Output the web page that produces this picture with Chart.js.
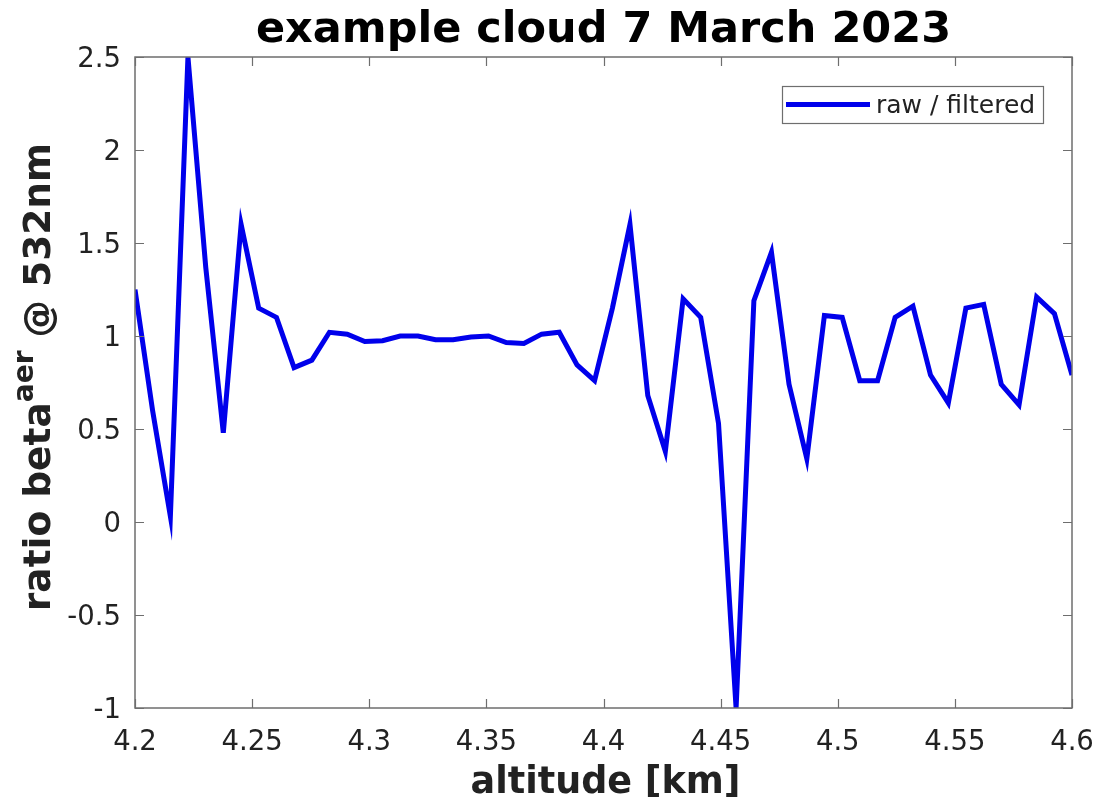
<!DOCTYPE html>
<html>
<head>
<meta charset="utf-8">
<script src="https://cdn.jsdelivr.net/npm/chart.js@4.4.1/dist/chart.umd.min.js"></script>
<style>
  html, body { margin: 0; padding: 0; background: #ffffff; }
  #wrap { width: 1100px; height: 803px; position: relative; }
</style>
</head>
<body>
<div id="wrap"><canvas id="c" width="1100" height="803"></canvas></div>
<script>
// ---- data ----
const chartTitle = "example cloud 7 March 2023";
const xAxisTitle = "altitude [km]";
const yAxisTitleMain = "ratio beta";
const yAxisTitleSup = "aer";
const yAxisTitleTail = " @ 532nm";
const seriesLabel = "raw / filtered";

const altitudeKm = [
  4.2000, 4.2075, 4.2151, 4.2226, 4.2302, 4.2377, 4.2453, 4.2528, 4.2604, 4.2679,
  4.2755, 4.2830, 4.2906, 4.2981, 4.3057, 4.3132, 4.3208, 4.3283, 4.3358, 4.3434,
  4.3509, 4.3585, 4.3660, 4.3736, 4.3811, 4.3887, 4.3962, 4.4038, 4.4113, 4.4189,
  4.4264, 4.4340, 4.4415, 4.4491, 4.4566, 4.4642, 4.4717, 4.4792, 4.4868, 4.4943,
  4.5019, 4.5094, 4.5170, 4.5245, 4.5321, 4.5396, 4.5472, 4.5547, 4.5623, 4.5698,
  4.5774, 4.5849, 4.5925, 4.6000
];
const ratioBeta = [
  1.25, 0.60, 0.03, 2.50, 1.37, 0.48, 1.60, 1.15, 1.10, 0.83,
  0.87, 1.02, 1.01, 0.97, 0.975, 1.00, 1.00, 0.98, 0.98, 0.995,
  1.00, 0.965, 0.96, 1.01, 1.02, 0.845, 0.76, 1.15, 1.60, 0.68,
  0.38, 1.20, 1.10, 0.53, -1.00, 1.19, 1.45, 0.74, 0.34, 1.11,
  1.10, 0.76, 0.76, 1.10, 1.16, 0.79, 0.64, 1.15, 1.17, 0.74,
  0.63, 1.21, 1.12, 0.79
];

const xTickValues = [4.2, 4.25, 4.3, 4.35, 4.4, 4.45, 4.5, 4.55, 4.6];
const xTickLabels = ["4.2", "4.25", "4.3", "4.35", "4.4", "4.45", "4.5", "4.55", "4.6"];
const yTickValues = [-1, -0.5, 0, 0.5, 1, 1.5, 2, 2.5];
const yTickLabels = ["-1", "-0.5", "0", "0.5", "1", "1.5", "2", "2.5"];

// ---- styles ----
const LINE_COLOR = "rgb(0,0,235)";
const AXIS_COLOR = "#6e6e6e";
const TEXT_COLOR = "#222222";
const FONT = "'DejaVu Sans', 'Liberation Sans', sans-serif";

const decor = {
  id: "decor",
  afterDraw(chart) {
    const ctx = chart.ctx;
    const a = chart.chartArea;
    const xs = chart.scales.x, ys = chart.scales.y;
    ctx.save();

    // axes box
    ctx.strokeStyle = AXIS_COLOR;
    ctx.lineWidth = 1.5;
    ctx.strokeRect(a.left, a.top, a.right - a.left, a.bottom - a.top);

    // inward ticks
    const tl = 9;
    ctx.beginPath();
    xTickValues.forEach(v => {
      const px = Math.round(xs.getPixelForValue(v)) + 0.5;
      ctx.moveTo(px, a.bottom); ctx.lineTo(px, a.bottom - tl);
      ctx.moveTo(px, a.top); ctx.lineTo(px, a.top + tl);
    });
    yTickValues.forEach(v => {
      const py = Math.round(ys.getPixelForValue(v)) + 0.5;
      ctx.moveTo(a.left, py); ctx.lineTo(a.left + tl, py);
      ctx.moveTo(a.right, py); ctx.lineTo(a.right - tl, py);
    });
    ctx.lineWidth = 1.2;
    ctx.stroke();

    // tick labels
    ctx.fillStyle = TEXT_COLOR;
    ctx.font = "27.5px " + FONT;
    ctx.textBaseline = "alphabetic";
    ctx.textAlign = "center";
    xTickValues.forEach((v, i) => {
      ctx.fillText(xTickLabels[i], xs.getPixelForValue(v), 750);
    });
    ctx.textAlign = "right";
    yTickValues.forEach((v, i) => {
      ctx.fillText(yTickLabels[i], a.left - 14, ys.getPixelForValue(v) + 9.5);
    });

    // title
    ctx.fillStyle = "#000000";
    ctx.textAlign = "center";
    ctx.font = "bold 43px " + FONT;
    ctx.fillText(chartTitle, (a.left + a.right) / 2, 42);

    // x axis title
    ctx.fillStyle = TEXT_COLOR;
    ctx.font = "bold 36.5px " + FONT;
    ctx.fillText(xAxisTitle, (a.left + a.right) / 2 + 2, 793);

    // y axis title with superscript
    ctx.save();
    ctx.translate(50, 377);
    ctx.rotate(-Math.PI / 2);
    ctx.textAlign = "left";
    const mainFont = "bold 37.5px " + FONT;
    const supFont = "bold 28px " + FONT;
    ctx.font = mainFont;
    const w1 = ctx.measureText(yAxisTitleMain).width;
    const w3 = ctx.measureText(yAxisTitleTail).width;
    ctx.font = supFont;
    const w2 = ctx.measureText(yAxisTitleSup).width;
    let x0 = -(w1 + w2 + w3) / 2;
    ctx.font = mainFont;
    ctx.fillText(yAxisTitleMain, x0, 0);
    ctx.font = supFont;
    ctx.fillText(yAxisTitleSup, x0 + w1, -17);
    ctx.font = mainFont;
    ctx.fillText(yAxisTitleTail, x0 + w1 + w2, 0);
    ctx.restore();

    // legend
    const ds = chart.data.datasets[0];
    ctx.fillStyle = "#ffffff";
    ctx.fillRect(782, 86, 261, 37);
    ctx.strokeStyle = AXIS_COLOR;
    ctx.lineWidth = 1.2;
    ctx.strokeRect(782.5, 86.5, 261, 37);
    ctx.strokeStyle = ds.borderColor;
    ctx.lineWidth = 5;
    ctx.beginPath();
    ctx.moveTo(786, 104.5); ctx.lineTo(870, 104.5);
    ctx.stroke();
    ctx.fillStyle = TEXT_COLOR;
    ctx.font = "25px " + FONT;
    ctx.textAlign = "left";
    ctx.fillText(ds.label, 876, 113);

    ctx.restore();
  }
};

const points = altitudeKm.map((x, i) => ({ x: x, y: ratioBeta[i] }));

new Chart(document.getElementById("c"), {
  type: "line",
  data: {
    datasets: [{
      label: seriesLabel,
      data: points,
      borderColor: LINE_COLOR,
      backgroundColor: LINE_COLOR,
      borderWidth: 5,
      pointRadius: 0,
      tension: 0,
      borderJoinStyle: "miter",
      fill: false
    }]
  },
  options: {
    responsive: false,
    animation: false,
    devicePixelRatio: 1,
    layout: { padding: { top: 57, right: 28, left: 0, bottom: 0 } },
    plugins: { legend: { display: false }, title: { display: false }, tooltip: { enabled: false } },
    scales: {
      x: {
        type: "linear",
        min: 4.2, max: 4.6,
        grid: { display: false, drawTicks: false },
        border: { display: false },
        ticks: { display: false },
        afterBuildTicks: s => { s.ticks = xTickValues.map(v => ({ value: v })); },
        afterFit: s => { s.height = 95; }
      },
      y: {
        type: "linear",
        min: -1, max: 2.5,
        grid: { display: false, drawTicks: false },
        border: { display: false },
        ticks: { display: false },
        afterBuildTicks: s => { s.ticks = yTickValues.map(v => ({ value: v })); },
        afterFit: s => { s.width = 135; }
      }
    }
  },
  plugins: [decor]
});
</script>
</body>
</html>
